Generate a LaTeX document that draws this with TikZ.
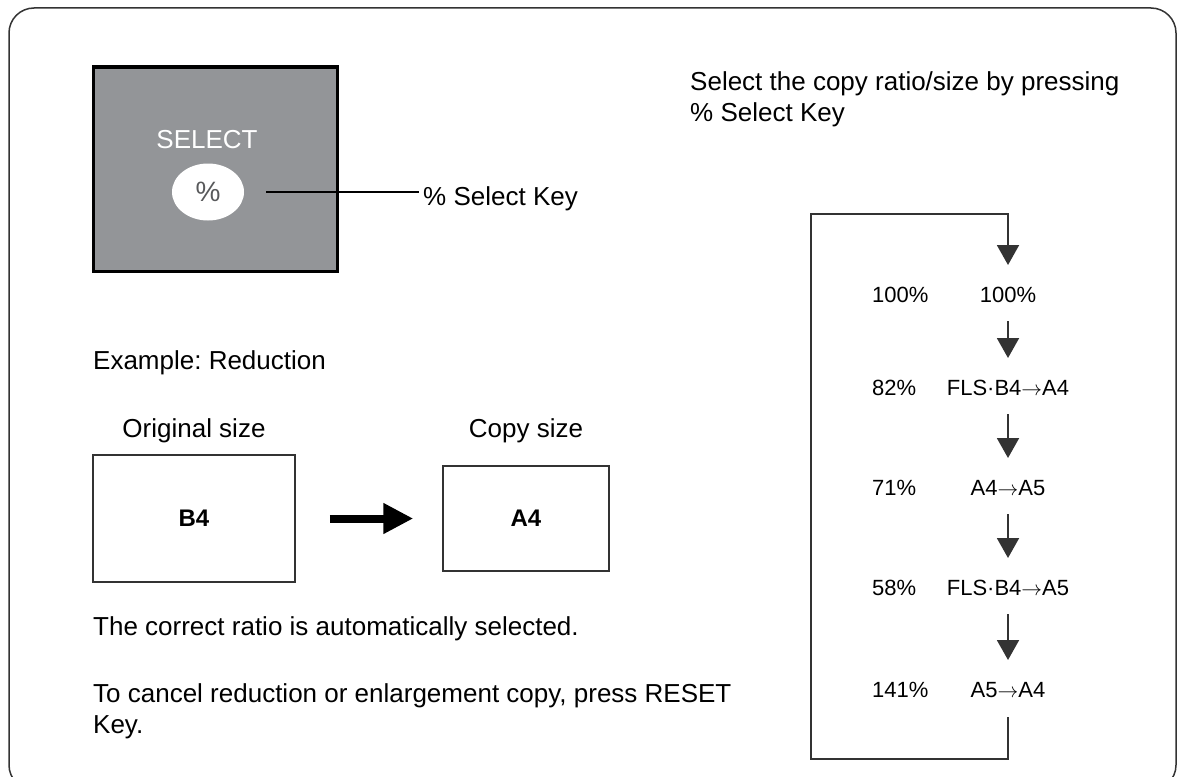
\documentclass[tikz,border=0pt]{standalone}
\usepackage{fontspec}
\setmainfont{Liberation Sans}
\usetikzlibrary{arrows.meta,shapes.geometric,positioning}
\definecolor{panelgray}{HTML}{939598}
\definecolor{keygray}{HTML}{58595B}
\definecolor{darkline}{HTML}{333333}
\newcommand{\toarrow}{\(\rightarrow\)}
\frenchspacing

\begin{document}
\begin{tikzpicture}[%
  x=1pt, y=-1pt,
  font=\fontsize{26}{31}\selectfont,
  txt/.style={inner sep=0pt, anchor=base west},
  ratio/.style={inner sep=0pt, font=\fontsize{22}{26}\selectfont},
  sheet/.style={draw=darkline, line width=1.5pt, font=\fontsize{24}{28}\selectfont\bfseries},
  flow/.style={draw=darkline, line width=2pt, -{Triangle[width=22pt,length=20pt]},
    shorten <=26pt, shorten >=30pt}]
\useasboundingbox (0,0) rectangle (1185,776);
\clip (0,0) rectangle (1185,776);
\draw[darkline, line width=1.5pt, rounded corners=25pt] (9,8) rectangle (1176,790);

\node[fill=panelgray, draw=black, line width=3pt, minimum width=244pt, minimum height=204pt] (panel) at (215,169) {};
\node[txt, anchor=base, text=white] (selectlbl) at (207,148) {SELECT};
\node[ellipse, fill=white, inner sep=0pt, minimum width=72pt, minimum height=57pt, text=keygray,
  font=\fontsize{28}{32}\selectfont] (key) at (208,192) {\%};
\node[txt, inner sep=4pt] (keylbl) at (419,205) {\% Select Key};
\draw[line width=1.5pt, shorten <=22pt] (key.east) -- (key.east -| keylbl.west);

\node[txt, anchor=north west, align=left] (hint) at (690,71) {Select the copy ratio/size by pressing\\\% Select Key};

\node[txt] (example) at (93,369) {Example: Reduction};
\node[sheet, minimum width=202pt, minimum height=127pt] (b4) at (194,518.5) {B4};
\node[sheet, minimum width=166pt, minimum height=105pt] (a4) at (526,518.5) {A4};
\node[txt, anchor=base] (origlbl) at (194,437) {Original size};
\node[txt, anchor=base] (copylbl) at (526,437) {Copy size};
\draw[line width=8pt, -{Triangle[width=29pt,length=30pt]}, shorten <=34pt, shorten >=29pt] (b4) -- (a4);

\node[txt] (note) at (93,635) {The correct ratio is automatically selected.};
\node[txt, anchor=north west, align=left] (cancel) at (93,683) {To cancel reduction or enlargement copy, press RESET\\Key.};

\node[ratio, anchor=west] (r1) at (872,295) {100\%};
\node[ratio, anchor=west] (r2) at (872,388) {82\%};
\node[ratio, anchor=west] (r3) at (872,488) {71\%};
\node[ratio, anchor=west] (r4) at (872,588) {58\%};
\node[ratio, anchor=west] (r5) at (872,690) {141\%};
\node[ratio] (s1) at (1008,295) {100\%};
\node[ratio] (s2) at (1008,388) {FLS·B4\toarrow A4};
\node[ratio] (s3) at (1008,488) {A4\toarrow A5};
\node[ratio] (s4) at (1008,588) {FLS·B4\toarrow A5};
\node[ratio] (s5) at (1008,690) {A5\toarrow A4};

\coordinate (loopNE) at (1008,214);
\coordinate (loopNW) at (811,214);
\coordinate (loopSW) at (811,759);
\coordinate (loopSE) at (1008,759);

\draw[flow] (s1.center) -- (s2.center);
\draw[flow] (s2.center) -- (s3.center);
\draw[flow] (s3.center) -- (s4.center);
\draw[flow] (s4.center) -- (s5.center);
\draw[flow, shorten <=27pt] (s5.center) -- (loopSE) -- (loopSW) -- (loopNW) -- (loopNE) -- (s1.center);
\end{tikzpicture}
\end{document}
